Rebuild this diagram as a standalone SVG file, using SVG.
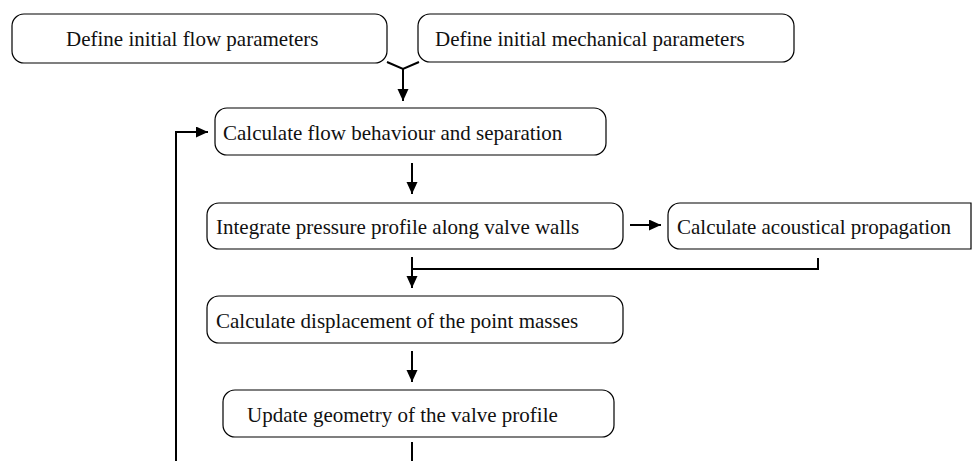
<svg xmlns="http://www.w3.org/2000/svg" width="972" height="461" viewBox="0 0 972 461">
<style>
.box{fill:#fff;stroke:#000;stroke-width:1.2}
.lbl{font-family:"Liberation Serif","Times New Roman",serif;font-size:21px;fill:#111}
.con{fill:none;stroke:#000;stroke-width:2}
</style>
<defs>
<marker id="ah" markerWidth="13" markerHeight="12" refX="12" refY="5.5" orient="auto" markerUnits="userSpaceOnUse">
<path d="M0,0 L12,5.5 L0,11 Z" fill="#000"/>
</marker>
</defs>
<rect width="972" height="461" fill="#fff"/>
<g id="n1"><rect class="box" x="12" y="14" width="375" height="49" rx="12"/><text class="lbl" x="66" y="46">Define initial flow parameters</text></g>
<g id="n2"><rect class="box" x="418" y="14" width="376" height="48" rx="12"/><text class="lbl" x="435" y="46">Define initial mechanical parameters</text></g>
<g id="n3"><rect class="box" x="215" y="108" width="391" height="47" rx="12"/><text class="lbl" x="223" y="140">Calculate flow behaviour and separation</text></g>
<g id="n4"><rect class="box" x="207" y="203" width="416" height="46" rx="12"/><text class="lbl" x="216" y="234">Integrate pressure profile along valve walls</text></g>
<g id="n5"><path class="box" d="M680,203 H971 V249 H680 A12,12 0 0 1 668,237 V215 A12,12 0 0 1 680,203 Z"/><text class="lbl" x="677" y="234">Calculate acoustical propagation</text></g>
<g id="n6"><rect class="box" x="207" y="296" width="416" height="47" rx="12"/><text class="lbl" x="216" y="328">Calculate displacement of the point masses</text></g>
<g id="n7"><rect class="box" x="223" y="390" width="391" height="47" rx="12"/><text class="lbl" x="247" y="422">Update geometry of the valve profile</text></g>
<g id="connectors">
<path class="con" d="M387,62 L403,69 L419,62"/>
<path class="con" d="M403,69 V101" marker-end="url(#ah)"/>
<path class="con" d="M412,163 V194" marker-end="url(#ah)"/>
<path class="con" d="M630,225 H661" marker-end="url(#ah)"/>
<path class="con" d="M818,258 V269 H412"/>
<path class="con" d="M412,257 V288" marker-end="url(#ah)"/>
<path class="con" d="M412,351 V382" marker-end="url(#ah)"/>
<path class="con" d="M412,442 V461"/>
<path class="con" d="M176,461 V132 H208" marker-end="url(#ah)"/>
</g>
</svg>
